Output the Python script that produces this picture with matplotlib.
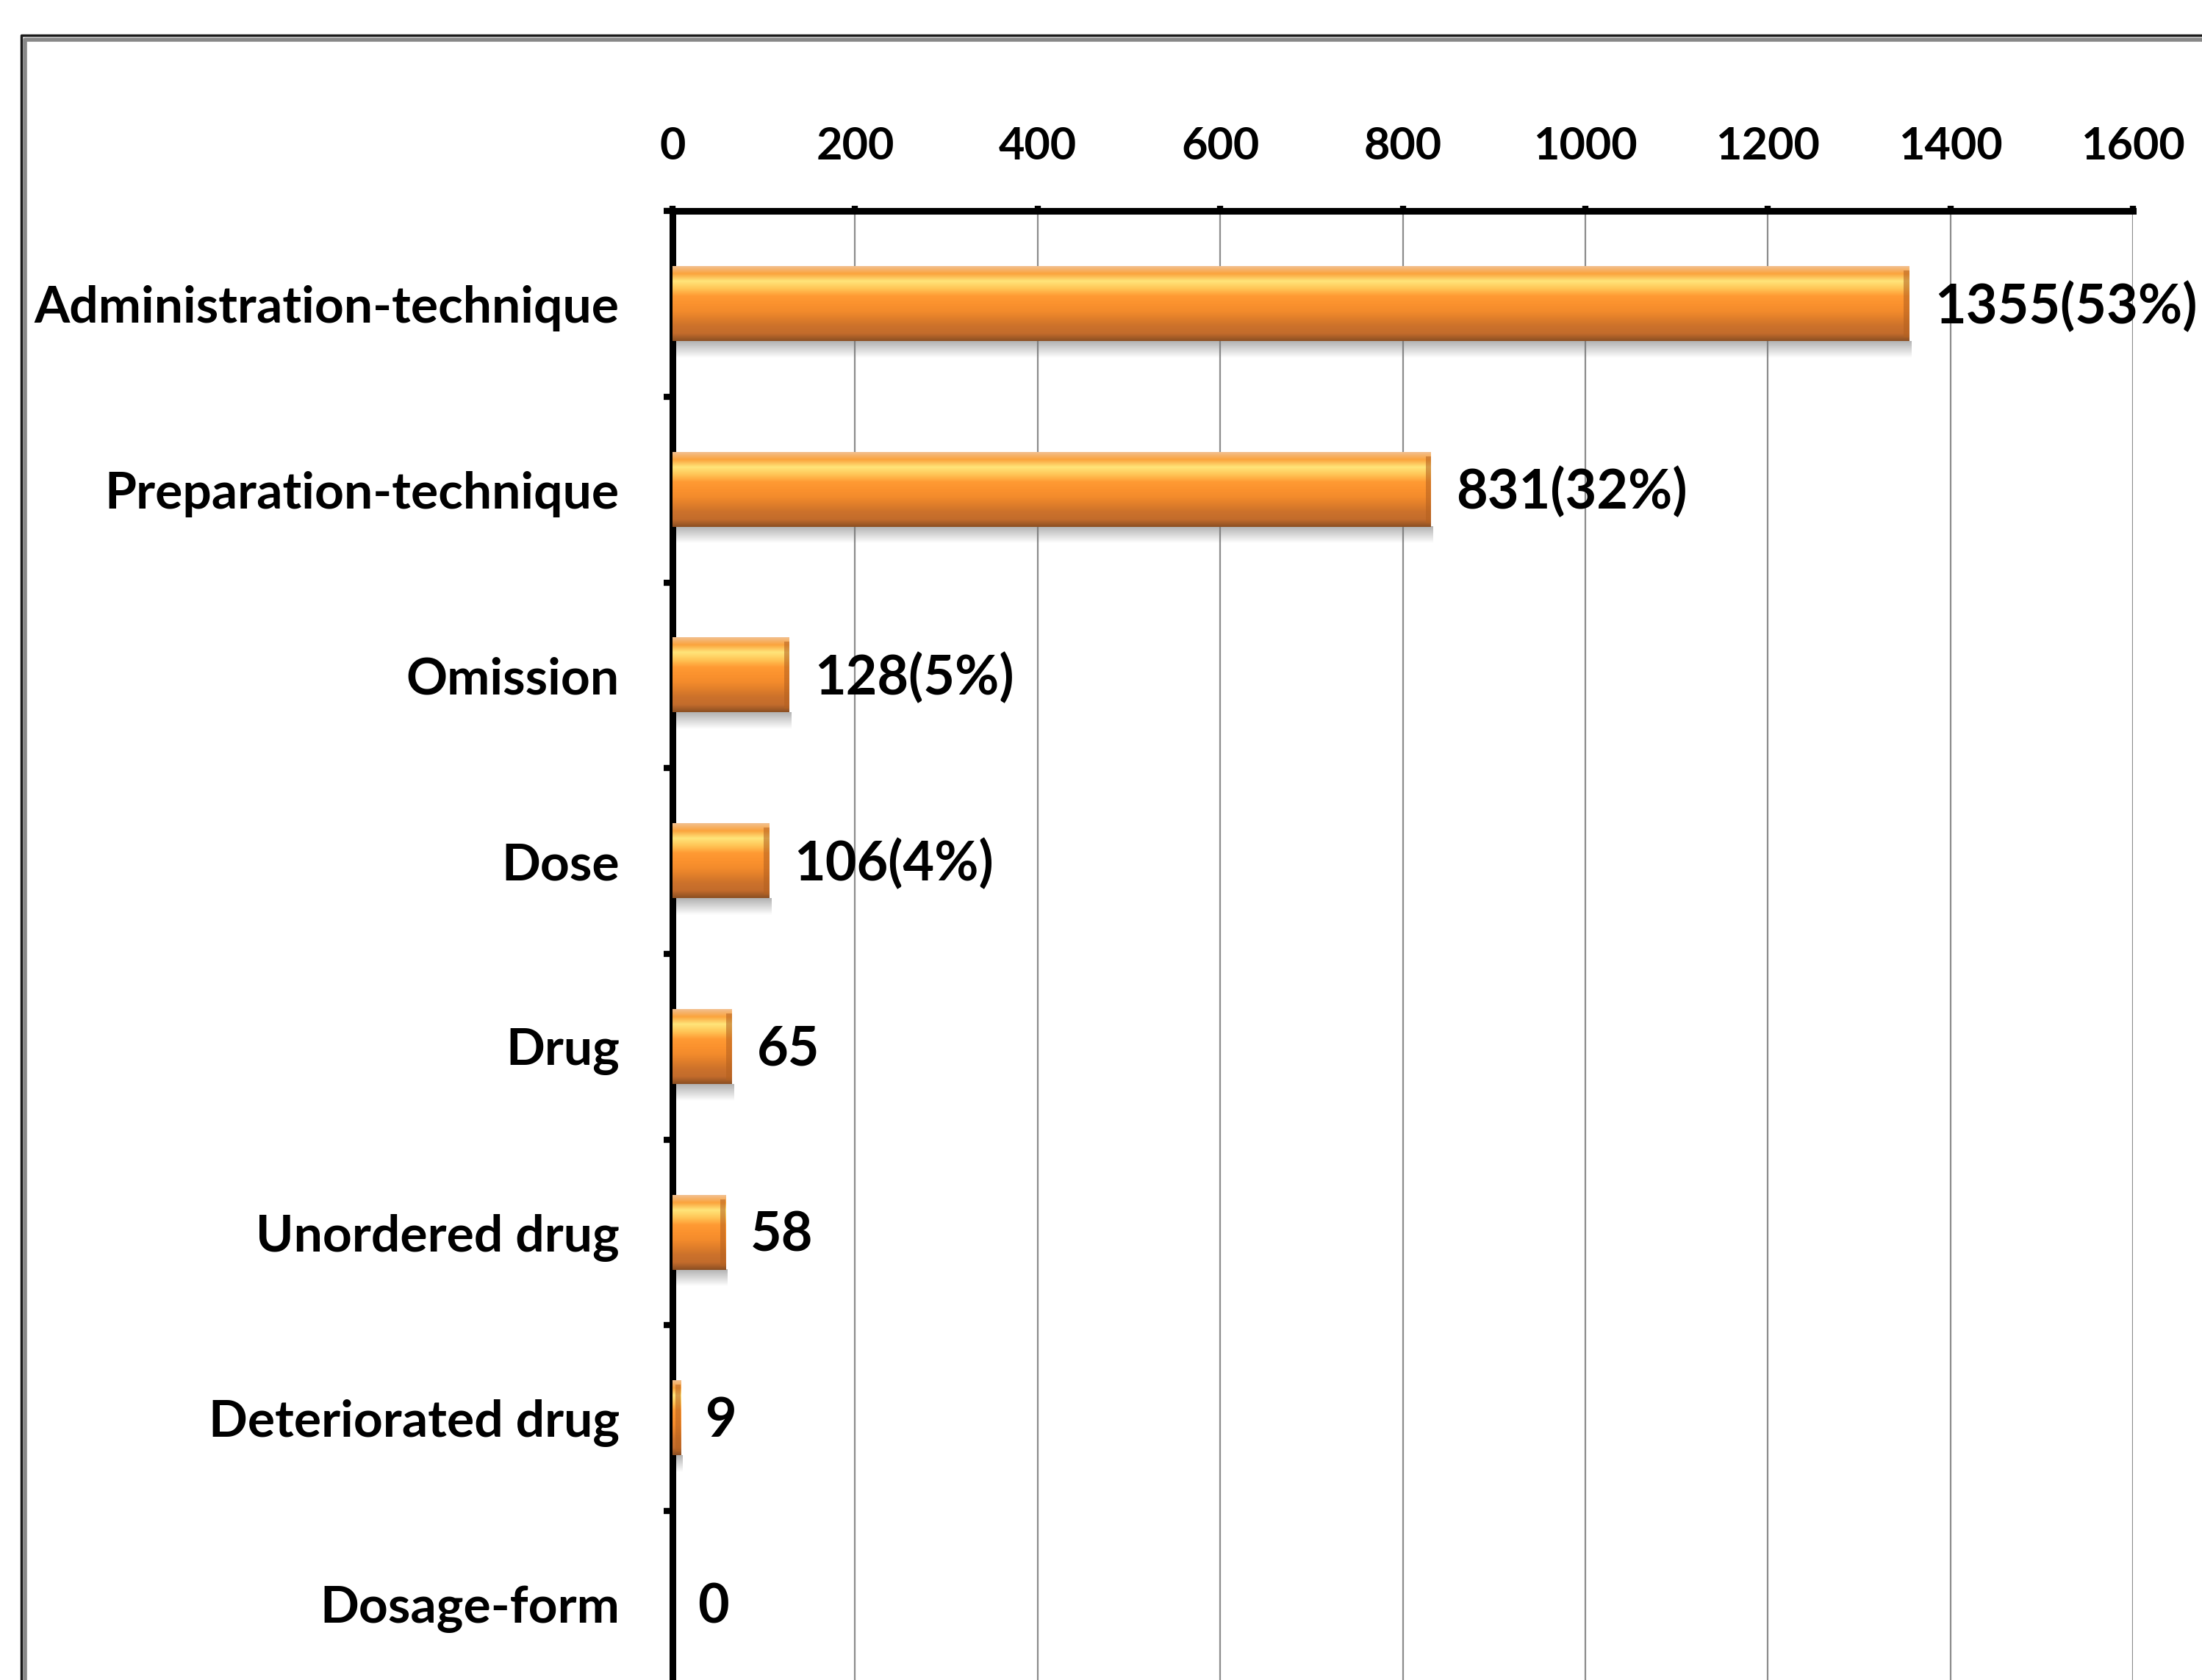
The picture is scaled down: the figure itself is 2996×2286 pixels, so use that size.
import numpy as np
import matplotlib.pyplot as plt
from matplotlib.colors import LinearSegmentedColormap
from matplotlib.lines import Line2D

# data
categories = ["Administration-technique", "Preparation-technique", "Omission", "Dose",
              "Drug", "Unordered drug", "Deteriorated drug", "Dosage-form"]
counts = [1355, 831, 128, 106, 65, 58, 9, 0]
value_labels = ["1355(53%)", "831(32%)", "128(5%)", "106(4%)", "65", "58", "9", "0"]
xticks = [0, 200, 400, 600, 800, 1000, 1200, 1400, 1600]

plt.rcParams['font.family'] = ['Lato', 'DejaVu Sans']
plt.rcParams['font.weight'] = 'bold'

W, H = 2996, 2286
fig = plt.figure(figsize=(W / 100, H / 100), dpi=100)
# axes run past the bottom edge: the picture is a crop of a taller chart
ax = fig.add_axes([915 / W, 1 - 2309 / H, (2902 - 915) / W, (2309 - 287) / H])

ypos = np.arange(len(categories))
bar_h = 0.4

# vertical gradient for the excel-style bevelled bars (top -> bottom)
bar_cmap = LinearSegmentedColormap.from_list(
    "bar", ["#f2c08f", "#fba33c", "#ffe57a", "#ffc556", "#ff9a33", "#fb922e",
            "#f38b2c", "#e07e2a", "#cc712b", "#c36c2c", "#8b4f22"])
grad = np.linspace(0, 1, 256).reshape(-1, 1)

shadow = np.zeros((64, 1, 4))
shadow[:, 0, :3] = 0.45
shadow[:, 0, 3] = np.linspace(0.55, 0.0, 64)

for y, v in zip(ypos, counts):
    if v <= 0:
        continue
    ax.imshow(shadow, extent=[0, v + 2, y + bar_h / 2 + 0.09, y + bar_h / 2],
              aspect='auto', zorder=2, interpolation='bilinear')
    ax.imshow(grad, cmap=bar_cmap, extent=[0, v, y + bar_h / 2, y - bar_h / 2],
              aspect='auto', zorder=3, interpolation='bilinear')
    bev = min(6, v)
    ax.barh(y, bev, left=v - bev, height=bar_h * 0.9, color='#b4601f',
            alpha=0.55, zorder=4, linewidth=0)

for y, v, lab in zip(ypos, counts, value_labels):
    ax.annotate(lab, (v, y), xytext=(34, -4), textcoords='offset pixels',
                ha='left', va='center', fontsize=53, zorder=6)

ax.set_xlim(0, 1600)
ax.set_ylim(len(categories) - 0.5, -0.5)

ax.xaxis.tick_top()
ax.set_xticks(xticks)
ax.set_xticklabels([str(t) for t in xticks], fontsize=44)
ax.tick_params(axis='x', length=5, width=6, pad=38, color='black')

ax.set_yticks(ypos)
ax.set_yticklabels(categories, fontsize=50)
ax.set_yticks(np.arange(-0.5, len(categories)), minor=True)
ax.tick_params(axis='y', which='major', length=0, pad=52)
ax.tick_params(axis='y', which='minor', length=9, width=6, color='black')

ax.grid(axis='x', color='#8c8c8c', linewidth=1.6)
ax.set_axisbelow(True)

for s in ['right', 'bottom']:
    ax.spines[s].set_visible(False)
for s in ['top', 'left']:
    ax.spines[s].set_linewidth(6.5)
    ax.spines[s].set_color('black')

# outer chart frame (dark line with grey inner shade)
x0, yt = 29 / W, 1 - 48 / H
fig.add_artist(Line2D([x0, x0, 1.01], [-0.01, yt, yt], transform=fig.transFigure,
                      color='#1a1a1a', linewidth=2.5))
fig.add_artist(Line2D([x0 + 5 / W] * 2 + [1.01], [-0.01, yt - 6 / H, yt - 6 / H],
                      transform=fig.transFigure, color='#888888', linewidth=4))

fig.savefig("out.png", dpi=100, facecolor='white')
